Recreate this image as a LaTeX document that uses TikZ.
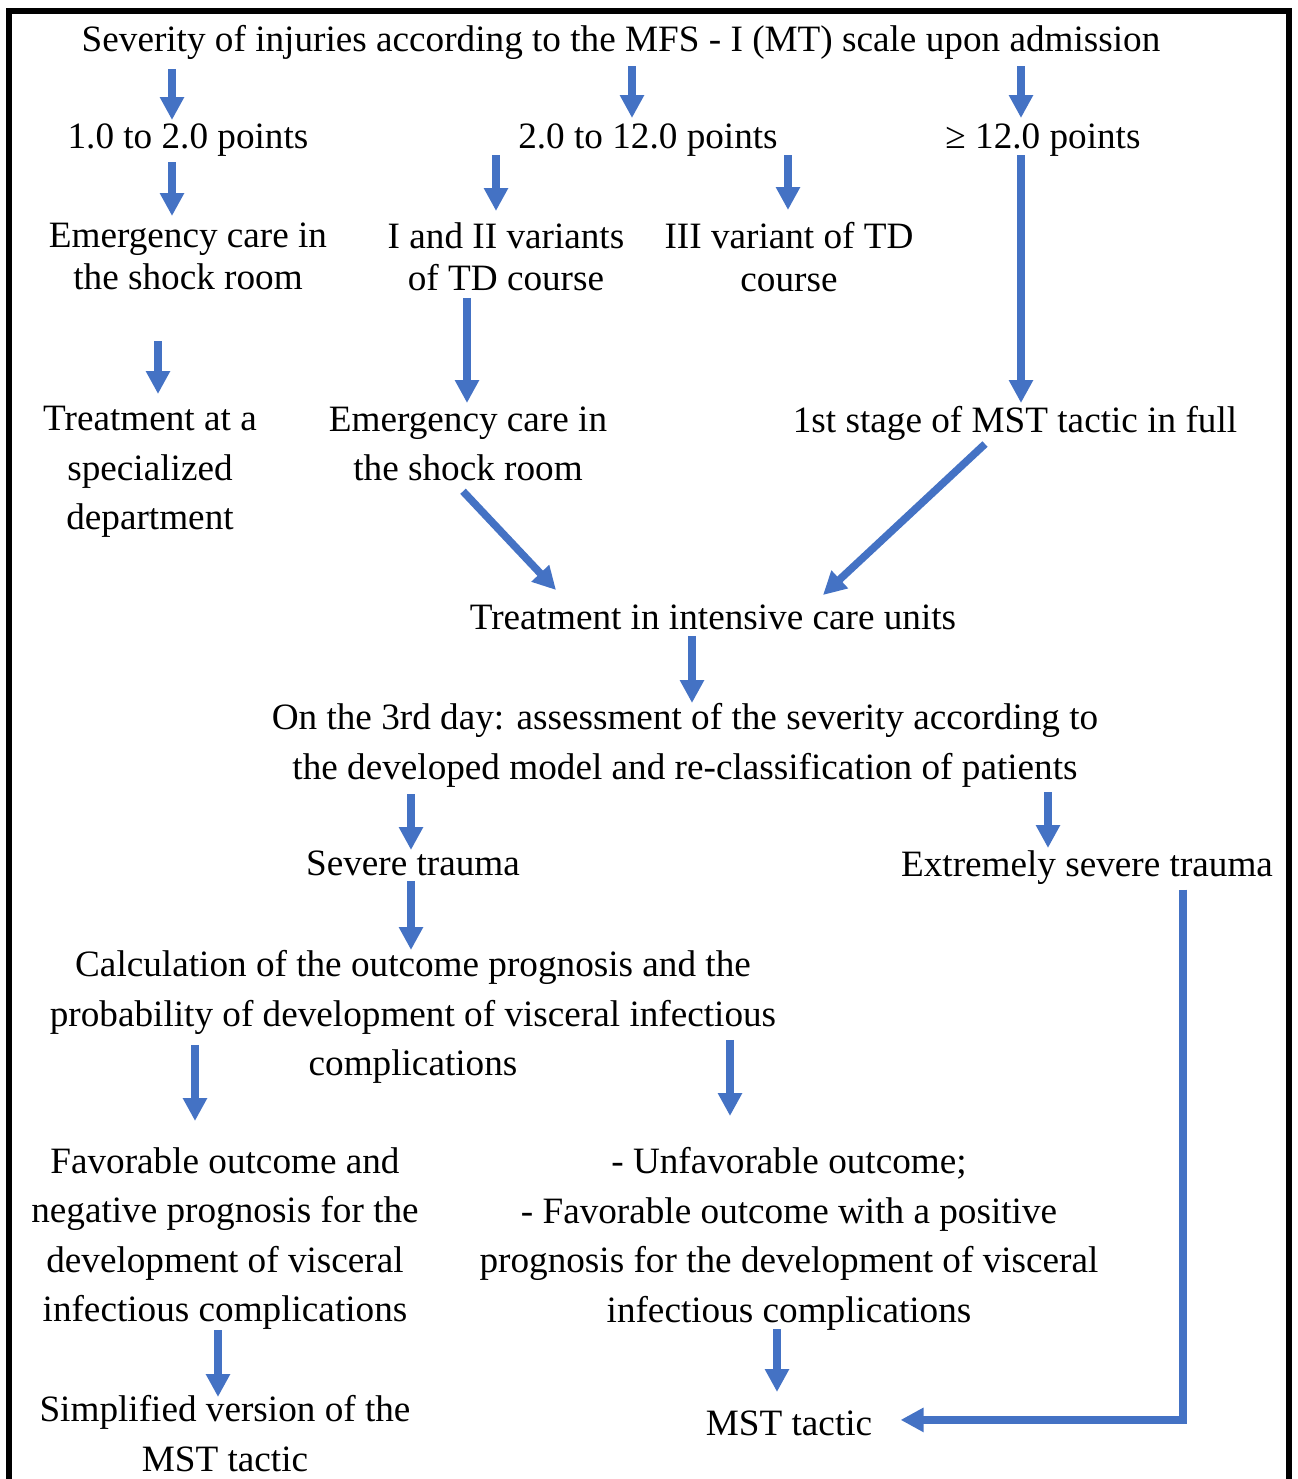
\documentclass[tikz,border=0pt]{standalone}
\usepackage{fontspec}
\setmainfont{Liberation Serif}
\usetikzlibrary{arrows.meta,calc}
\definecolor{flowblue}{HTML}{4472C4}
\tikzset{
  lbl/.style={anchor=north, inner sep=0pt, align=center, font=\fontsize{18.6pt}{24.75pt}\selectfont},
  lbltight/.style={lbl, font=\fontsize{18.6pt}{21.25pt}\selectfont},
  flow/.style={draw=flowblue, line width=3.8pt, -{Triangle[length=11.5pt,width=11.5pt]}},
  frame/.style={draw=black, line width=3pt},
}
\begin{document}
\begin{tikzpicture}[x=0.5pt,y=-0.5pt]
  \useasboundingbox (0,0) rectangle (1297,1479);
  \draw[frame] (9,1500) -- (9,11) -- (1289,11) -- (1289,1500);

  \node[lbl] (top) at (621,25) {Severity of injuries according to the MFS - I (MT) scale upon admission};
  \node[lbl] (p1) at (188,123) {1.0 to 2.0 points};
  \node[lbl] (p2) at (648,123) {2.0 to 12.0 points};
  \node[lbl] (p3) at (1043,123) {≥ 12.0 points};
  \node[lbltight] (ec1) at (188,222) {Emergency care in\\the shock room};
  \node[lbltight] (v12) at (506,222) {I and II variants\\of TD course};
  \node[lbltight] (v3) at (789,222) {III variant of TD\\course};
  \node[lbl] (spec) at (150,406) {Treatment at a\\specialized\\department};
  \node[lbl] (ec2) at (468,406) {Emergency care in\\the shock room};
  \node[lbl] (mst1) at (1015,406) {1st stage of MST tactic in full};
  \node[lbl] (icu) at (713,604) {Treatment in intensive care units};
  \node[lbl] (day3) at (685,703) {On the 3rd day: assessment of the severity according to\\the developed model and re-classification of patients};
  \node[lbl] (sev) at (413,850) {Severe trauma};
  \node[lbl] (ext) at (1087,850) {Extremely severe trauma};
  \node[lbl] (calc) at (413,950) {Calculation of the outcome prognosis and the\\probability of development of visceral infectious\\complications};
  \node[lbl] (fav) at (225,1147) {Favorable outcome and\\negative prognosis for the\\development of visceral\\infectious complications};
  \node[lbl] (unf) at (789,1147) {- Unfavorable outcome;\\- Favorable outcome with a positive\\prognosis for the development of visceral\\infectious complications};
  \node[lbl] (simp) at (225,1395) {Simplified version of the\\MST tactic};
  \node[lbl] (mst) at (789,1410) {MST tactic};

  \draw[flow] ($(top.south -| p1.north)+(-16,9)$) -- ($(p1.north)+(-16,-3)$);
  \draw[flow] ($(top.south -| p2.north)+(-16,6)$) -- ($(p2.north)+(-16,-5)$);
  \draw[flow] ($(top.south -| p3.north)+(-22,6)$) -- ($(p3.north)+(-22,-5)$);
  \draw[flow] ($(p1.south -| ec1.north)+(-16,6)$) -- ($(ec1.north)+(-16,-6)$);
  \draw[flow] ($(p2.south -| v12.north)+(-10,-1)$) -- ($(v12.north)+(-10,-11)$);
  \draw[flow] ($(p2.south -| v3.north)+(-1,-1)$) -- ($(v3.north)+(-1,-12)$);
  \draw[flow] ($(p3.south -| mst1.north)+(6,-1)$) -- ($(mst1.north)+(6,-3)$);
  \draw[flow] ($(ec1.south -| spec.north)+(8,51)$) -- ($(spec.north)+(8,-12)$);
  \draw[flow] ($(v12.south -| ec2.north)+(-1,7)$) -- ($(ec2.north)+(-1,-3)$);
  \draw[flow] ($(ec2.south)+(-5,10)$) -- ($(icu.north)+(-157,-14)$);
  \draw[flow] ($(mst1.south)+(-30,3)$) -- ($(icu.north)+(110,-9)$);
  \draw[flow] ($(icu.south -| day3.north)+(7,6)$) -- ($(day3.north)+(7,0)$);
  \draw[flow] ($(day3.south -| sev.north)+(-2,7)$) -- ($(sev.north)+(-2,0)$);
  \draw[flow] ($(day3.south -| ext.north)+(-39,5)$) -- ($(ext.north)+(-39,-2)$);
  \draw[flow] ($(sev.south -| calc.north)+(-2,5)$) -- ($(calc.north)+(-2,0)$);
  \draw[flow] ($(calc.south -| fav.north)+(-30,-39)$) -- ($(fav.north)+(-30,-26)$);
  \draw[flow] ($(calc.south -| unf.north)+(-59,-44)$) -- ($(unf.north)+(-59,-31)$);
  \draw[flow] ($(fav.south -| simp.north)+(-7,0)$) -- ($(simp.north)+(-7,2)$);
  \draw[flow] ($(unf.south -| mst.north)+(-12,-1)$) -- ($(mst.north)+(-12,-18)$);
  \draw[flow] ($(ext.south)+(96,5)$) |- ($(mst.east)+(28,-3)$);
\end{tikzpicture}
\end{document}
